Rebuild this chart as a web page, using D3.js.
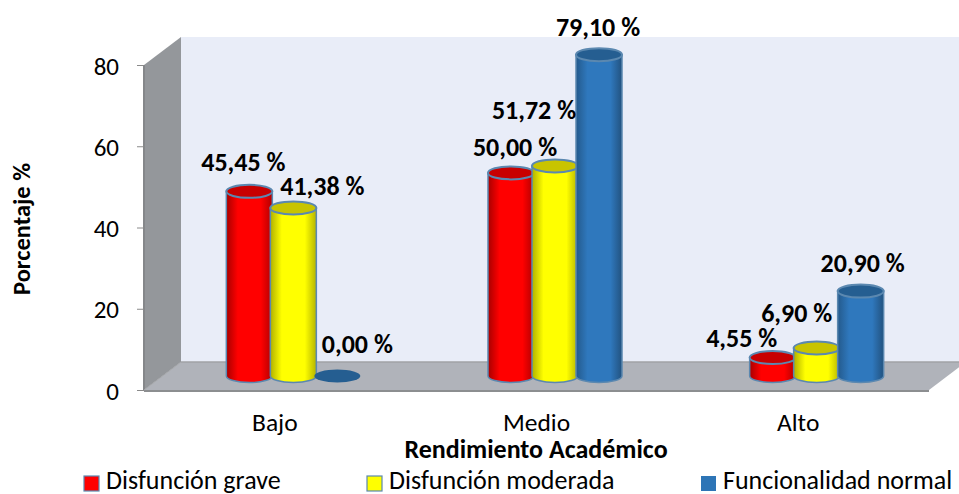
<!DOCTYPE html>
<html>
<head>
<meta charset="utf-8">
<script src="https://cdnjs.cloudflare.com/ajax/libs/d3/7.8.5/d3.min.js"></script>
<style>
html, body { margin: 0; padding: 0; background: #fff; overflow: hidden; }
text { font-family: Carlito, Lato, "Open Sans", sans-serif; fill: #000; }
</style>
</head>
<body>
<div id="chart"></div>
<script>
var categories = ['Bajo', 'Medio', 'Alto'];
var seriesNames = ['Disfunción grave', 'Disfunción moderada', 'Funcionalidad normal'];
var grave = [45.45, 50.00, 4.55];
var moderada = [41.38, 51.72, 6.90];
var normal = [0.00, 79.10, 20.90];
var yTicks = [0, 20, 40, 60, 80];

var width = 959, height = 494;
var depthX = 37, depthY = 28;      // 3d offset of the back wall
var barW = 46, barStep = 44, ry = 6.5;

// nudges for the data labels, they were placed by hand in the original
var labelNudge = [
    [[-6, -29], [4, -26], [-31, -20]],
    [[29, -22], [-21, -56], [-20, -35]],
    [[20, -32], [-1, -28], [2, -28]]
];

var palette = [
    { side: ['#a80000', '#ff0000', '#ff0000', '#b00000'], top: '#c80000', swatch: '#ff0000' },
    { side: ['#b0b000', '#ffff00', '#ffff00', '#b4b400'], top: '#c8c400', swatch: '#ffff00' },
    { side: ['#245a8c', '#2f78bd', '#2f78bd', '#22527f'], top: '#255e91', swatch: '#2e75b6' }
];
var edge = '#5b88b0';

var svg = d3.select('#chart').append('svg').attr('width', width).attr('height', height).style('display', 'block');
var defs = svg.append('defs');

palette.forEach(function(p, i) {
    var g = defs.append('linearGradient').attr('id', 'cyl' + i);
    [0, 0.25, 0.75, 1].forEach(function(o, k) {
        g.append('stop').attr('offset', o).attr('stop-color', p.side[k]);
    });
});

var y = d3.scaleLinear().domain([0, 80]).range([390, 65]);
var x = d3.scaleBand().domain(categories).range([144, 929]);

var x0 = x.range()[0], x1 = x.range()[1];
var y0 = y(0), yTop = y(80);

// back wall
svg.append('polygon')
    .attr('points', [[x0 + depthX, yTop - depthY], [x1 + depthX, yTop - depthY], [x1 + depthX, y0 - depthY], [x0 + depthX, y0 - depthY]].join(' '))
    .attr('fill', '#e9edf8');

// left wall
svg.append('polygon')
    .attr('points', [[x0, yTop], [x0 + depthX, yTop - depthY], [x0 + depthX, y0 - depthY], [x0, y0]].join(' '))
    .attr('fill', '#94979b');
svg.append('line').attr('x1', x0).attr('x2', x0).attr('y1', yTop).attr('y2', y0)
    .attr('stroke', '#85878a').attr('stroke-width', 2);

// floor
svg.append('polygon')
    .attr('points', [[x0, y0], [x0 + depthX, y0 - depthY], [x1 + depthX, y0 - depthY], [x1, y0]].join(' '))
    .attr('fill', '#b0b3ba');
svg.append('line').attr('x1', x0 + depthX).attr('x2', x1 + depthX).attr('y1', y0 - depthY).attr('y2', y0 - depthY)
    .attr('stroke', '#a0a2a6').attr('stroke-width', 1.5);
svg.append('line').attr('x1', x0).attr('x2', x1).attr('y1', y0 + 1).attr('y2', y0 + 1)
    .attr('stroke', '#8c8e90').attr('stroke-width', 2);
svg.append('line').attr('x1', x0).attr('x2', x0 + depthX).attr('y1', y0).attr('y2', y0 - depthY)
    .attr('stroke', '#a4a6a9').attr('stroke-width', 1);

// y axis
var yAxis = d3.axisLeft(y).tickValues(yTicks).tickSize(7).tickPadding(18);
var yg = svg.append('g').attr('transform', 'translate(' + x0 + ',0)').call(yAxis);
yg.select('.domain').remove();
yg.selectAll('line').attr('stroke', '#8a8a8a');
yg.selectAll('text').style('font-size', '25px').attr('dy', '0.36em');

// x axis labels
var xAxis = d3.axisBottom(x).tickSize(0).tickPadding(0);
var xg = svg.append('g').attr('transform', 'translate(0,' + (y0 + 23) + ')').call(xAxis);
xg.select('.domain').remove();
xg.selectAll('text').style('font-size', '25.5px');

var bars = [grave, moderada, normal];
var baseY = y0 - 14;

function barX(catIndex, serIndex) {
    return x(categories[catIndex]) + x.bandwidth() / 2 + depthX / 2 + (serIndex - 1) * barStep;
}
function barHeight(v) { return y(0) - y(v); }

// cylinders, drawn group by group so each one sits on top of its left neighbour
categories.forEach(function(cat, c) {
    bars.forEach(function(values, s) {
        var v = values[c], cx = barX(c, s), topY = baseY - barHeight(v);
        var g = svg.append('g');
        if (v === 0) {
            g.append('ellipse').attr('cx', cx).attr('cy', baseY).attr('rx', barW / 2).attr('ry', ry)
                .attr('fill', palette[s].top);
            return;
        }
        g.append('path')
            .attr('d', 'M' + (cx - barW / 2) + ',' + topY + 'V' + baseY +
                'A' + barW / 2 + ',' + ry + ' 0 0 0 ' + (cx + barW / 2) + ',' + baseY +
                'V' + topY + 'Z')
            .attr('fill', 'url(#cyl' + s + ')')
            .attr('stroke', edge).attr('stroke-width', 1.5);
        g.append('ellipse').attr('cx', cx).attr('cy', topY).attr('rx', barW / 2).attr('ry', ry)
            .attr('fill', palette[s].top)
            .attr('stroke', edge).attr('stroke-width', 2);
    });
});

// data labels
bars.forEach(function(values, s) {
    values.forEach(function(v, c) {
        var n = labelNudge[s][c];
        svg.append('text')
            .attr('x', barX(c, s) + n[0])
            .attr('y', baseY - barHeight(v) + n[1])
            .attr('text-anchor', 'middle')
            .attr('dominant-baseline', 'central')
            .style('font-size', '26px').style('font-weight', 'bold')
            .text(v.toFixed(2).replace('.', ',') + ' %');
    });
});

// axis titles
svg.append('text').attr('transform', 'translate(30,229) rotate(-90)')
    .attr('text-anchor', 'middle')
    .style('font-size', '24.5px').style('font-weight', 'bold').text('Porcentaje %');
svg.append('text').attr('x', 536).attr('y', 458).attr('text-anchor', 'middle')
    .style('font-size', '26px').style('font-weight', 'bold').text('Rendimiento Académico');

// legend
var legendX = d3.scaleOrdinal().domain(seriesNames).range([84, 367, 701]);
var leg = svg.selectAll('.leg').data(seriesNames).enter().append('g').attr('class', 'leg')
    .attr('transform', function(d) { return 'translate(' + legendX(d) + ',476)'; });
leg.append('rect').attr('width', 15).attr('height', 15)
    .attr('fill', function(d, i) { return palette[i].swatch; })
    .attr('stroke', function(d, i) { return i === 2 ? 'none' : edge; }).attr('stroke-width', 1.2);
leg.append('text').attr('x', 22).attr('y', 13)
    .style('font-size', '26px').text(function(d) { return d; });
</script>
</body>
</html>
